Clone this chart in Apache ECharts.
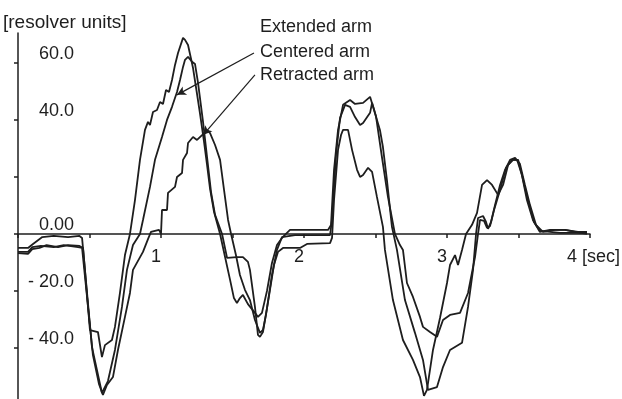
<!DOCTYPE html>
<html>
<head>
<meta charset="utf-8">
<script src="https://cdn.jsdelivr.net/npm/echarts@6/dist/echarts.min.js"></script>
<style>
html,body{margin:0;padding:0;background:#fff;}
#chart{width:622px;height:399px;}
</style>
</head>
<body>
<div id="chart"></div>
<script>
// time [sec], value [resolver units]
const extendedArm = [[0,-6.7],[0.07,-7.0],[0.1,-5.3],[0.15,-4.9],[0.2,-3.9],[0.28,-4.6],[0.35,-3.9],[0.43,-4.2],[0.455,-4.9],
[0.503,-33.7],[0.559,-34.4],[0.587,-43.2],[0.608,-39.0],[0.657,-37.2],[0.678,-32.6],[0.713,-20.7],[0.748,-7.4],[0.783,0],[0.818,11.9],[0.853,26.0],[0.888,36.5],[0.909,39.3],[0.923,38.2],[0.944,42.8],[0.972,43.5],[0.993,46.3],[1.014,45.6],[1.035,50.5],[1.056,49.8],[1.077,54.0],[1.098,59.3],[1.119,63.5],[1.154,68.8],[1.168,68.1],[1.189,66.3],[1.224,58.2],[1.252,49.1],[1.273,42.1],[1.301,32.3],[1.322,24.2],[1.343,15.8],[1.371,7.7],[1.413,0],[1.448,-8.1],[1.483,-16.1],[1.51,-22.5],[1.531,-24.2],[1.552,-22.5],[1.573,-21.4],[1.608,-24.6],[1.657,-27.7],[1.678,-29.1],[1.706,-27.7],[1.741,-20.0],[1.776,-10.2],[1.811,-3.9],[1.846,-1.4],[1.902,1.4],[1.972,1.4],[2.168,1.4],[2.189,3.2],[2.21,22.5],[2.238,36.5],[2.273,45.3],[2.322,47.0],[2.357,45.6],[2.413,46.0],[2.462,48.1],[2.483,44.6],[2.531,36.5],[2.552,30.5],[2.58,18.9],[2.615,2.5],[2.65,-5.6],[2.706,-23.2],[2.776,-34.7],[2.832,-44.2],[2.867,-54.7],[2.93,-53.7],[2.972,-46.7],[3.021,-40.7],[3.105,-38.2],[3.147,-25.6],[3.182,-12.6],[3.203,0],[3.217,5.6],[3.252,6.3],[3.273,4.2],[3.287,1.8],[3.308,4.2],[3.336,10.2],[3.371,17.2],[3.406,22.5],[3.441,26.0],[3.476,26.7],[3.51,24.6],[3.545,17.2],[3.58,10.2],[3.622,3.2],[3.671,0.7],[3.755,1.4],[3.825,1.4],[3.895,0.7],[3.979,0]];

const centeredArm = [[0,-4.9],[0.07,-4.9],[0.105,-3.5],[0.17,-1.1],[0.25,-0.7],[0.35,-1.1],[0.43,-0.7],[0.448,-1.4],
[0.517,-39.6],[0.552,-47.7],[0.587,-55.8],[0.629,-51.6],[0.678,-40.7],[0.727,-25.6],[0.762,-12.6],[0.804,-3.9],[0.853,0],[0.874,4.9],[0.923,16.5],[0.958,26.0],[1.007,34.0],[1.042,40.0],[1.077,44.6],[1.112,49.8],[1.133,54.0],[1.154,58.6],[1.168,61.1],[1.189,62.1],[1.217,60.4],[1.238,59.6],[1.259,53.0],[1.294,39.3],[1.322,27.0],[1.35,14.7],[1.378,6.7],[1.427,0],[1.462,-8.4],[1.531,-8.1],[1.573,-8.1],[1.608,-9.8],[1.622,-12.6],[1.657,-25.6],[1.678,-35.4],[1.692,-36.1],[1.713,-34.4],[1.741,-26.0],[1.776,-14.4],[1.811,-5.6],[1.846,-1.1],[1.937,-0.4],[2.182,-0.4],[2.196,5.0],[2.224,28.0],[2.252,40.7],[2.287,45.3],[2.322,44.6],[2.357,41.0],[2.392,38.2],[2.413,38.9],[2.462,42.5],[2.476,46.0],[2.503,41.4],[2.545,27.0],[2.587,13.0],[2.636,0],[2.671,-3.9],[2.692,-5.6],[2.72,-17.2],[2.762,-22.1],[2.811,-29.1],[2.832,-32.6],[2.881,-34.4],[2.93,-36.1],[2.972,-30.2],[3.021,-28.4],[3.091,-27.7],[3.147,-20.7],[3.196,-8.1],[3.217,0],[3.231,4.9],[3.259,4.6],[3.28,2.1],[3.301,2.8],[3.329,8.4],[3.371,15.4],[3.413,23.2],[3.455,26.0],[3.49,26.0],[3.524,20.7],[3.566,11.9],[3.608,4.2],[3.65,1.1],[3.79,0.4],[3.979,0.4]];

const retractedArm = [[0,-6.3],[0.07,-6.3],[0.1,-4.6],[0.16,-4.2],[0.25,-4.6],[0.32,-3.9],[0.42,-4.6],[0.448,-4.9],[0.524,-42.5],[0.566,-52.6],[0.594,-56.5],[0.622,-53.0],[0.664,-50.2],[0.699,-40.7],[0.748,-29.1],[0.783,-20.7],[0.804,-12.6],[0.874,-6.3],[0.909,-1.8],[0.93,0.7],[0.937,1.4],[0.986,1.4],[1.0,0],[1.007,0.7],[1.007,8.4],[1.042,8.4],[1.049,14.4],[1.098,16.5],[1.112,20.0],[1.147,21.4],[1.154,26.0],[1.182,28.4],[1.189,31.9],[1.224,34.0],[1.252,33.0],[1.287,34.7],[1.322,36.5],[1.343,35.4],[1.378,31.2],[1.413,26.0],[1.441,15.4],[1.469,4.9],[1.49,0],[1.524,-7.4],[1.552,-14.4],[1.587,-19.6],[1.622,-23.2],[1.657,-30.2],[1.692,-34.7],[1.713,-33.7],[1.734,-28.4],[1.762,-19.6],[1.79,-10.9],[1.818,-6.3],[1.853,-4.9],[1.972,-4.9],[2.021,-3.5],[2.182,-3.2],[2.196,-1.4],[2.21,11.9],[2.238,29.5],[2.259,34.7],[2.273,36.5],[2.308,36.5],[2.336,29.5],[2.371,22.5],[2.392,20.0],[2.413,20.7],[2.448,23.2],[2.476,21.8],[2.51,13.0],[2.552,2.5],[2.566,-5.6],[2.622,-23.2],[2.692,-37.2],[2.762,-44.2],[2.811,-50.2],[2.839,-56.8],[2.86,-54.7],[2.902,-40.7],[2.951,-29.5],[3.0,-17.2],[3.021,-10.9],[3.056,-7.4],[3.077,-10.9],[3.105,-5.6],[3.133,0],[3.175,3.2],[3.21,7.4],[3.245,17.2],[3.28,18.9],[3.315,17.2],[3.357,13.7],[3.392,17.2],[3.427,24.2],[3.462,26.0],[3.497,26.0],[3.524,20.7],[3.559,11.9],[3.601,4.9],[3.65,0.7],[3.72,1.4],[3.825,1.4],[3.916,0.7],[3.979,0.7]];

const seriesNames = ['Extended arm', 'Centered arm', 'Retracted arm'];
// leader lines: [label end], [curve end] in data coordinates
const leaderLines = [
  [[1.650, 70.9], [1.182, 68.1]],
  [[1.650, 63.5], [1.112, 48.8]],
  [[1.657, 55.8], [1.294, 34.7]]
];
const xLabels = [1, 2, 3];
const yTicks = [-40, -20, 0, 20, 40, 60];
const yLabels = [-40, -20, 0, 40, 60];

const FONT = '"Liberation Sans", Arial, Helvetica, sans-serif';
const INK = '#1e1e1e';

const chart = echarts.init(document.getElementById('chart'), null, {renderer: 'canvas'});

function mkSeries(name, data, leader) {
  return {
    name: name, type: 'line', data: data, showSymbol: false, symbol: 'none',
    clip: false, animation: false,
    lineStyle: {color: INK, width: 1.8},
    markLine: {
      silent: true, animation: false,
      symbol: ['none', 'arrow'], symbolSize: [7, 9],
      label: {show: false},
      lineStyle: {color: INK, width: 1.2, type: 'solid'},
      data: [[{coord: leader[0]}, {coord: leader[1]}]]
    }
  };
}

chart.setOption({
  animation: false,
  backgroundColor: '#fff',
  title: {
    text: '[resolver units]', left: 3, top: 13, padding: 0,
    textStyle: {fontFamily: FONT, fontSize: 19, fontWeight: 'normal', color: INK}
  },
  grid: {left: 18, right: 32, top: 33, bottom: 0, containLabel: false, outerBoundsMode: 'none'},
  xAxis: {
    type: 'value', min: 0, max: 4, interval: 0.5,
    position: 'bottom', offset: -165,
    axisLine: {onZero: false, lineStyle: {color: INK, width: 1.5}},
    axisTick: {length: 4, lineStyle: {color: INK, width: 1.5}},
    axisLabel: {show: true, align: 'right', margin: 14,
      fontFamily: FONT, fontSize: 18, color: INK,
      formatter: v => xLabels.indexOf(v) >= 0 ? String(v) : ''},
    splitLine: {show: false},
    name: '4 [sec]', nameLocation: 'end', nameGap: -23,
    nameTextStyle: {fontFamily: FONT, fontSize: 18, color: INK, align: 'left', verticalAlign: 'top', padding: [14, 0, 0, 0]}
  },
  yAxis: {
    type: 'value', min: -57.9, max: 70.5,
    axisLine: {show: true, onZero: false, lineStyle: {color: INK, width: 1.5}},
    axisTick: {show: true, customValues: yTicks, length: 4, lineStyle: {color: INK, width: 1.5}},
    axisLabel: {customValues: yLabels, inside: true, margin: 56, align: 'right', verticalAlign: 'bottom',
      lineHeight: 18, fontFamily: FONT, fontSize: 18, color: INK,
      formatter: v => v === 0 ? '0.00' : (v < 0 ? '- ' + Math.abs(v).toFixed(1) : v.toFixed(1))},
    splitLine: {show: false}
  },
  graphic: [
    {type: 'text', x: 260, y: 27, style: {text: seriesNames[0], fontFamily: FONT, fontSize: 18, fill: INK, verticalAlign: 'middle'}},
    {type: 'text', x: 260, y: 52, style: {text: seriesNames[1], fontFamily: FONT, fontSize: 18, fill: INK, verticalAlign: 'middle'}},
    {type: 'text', x: 260, y: 75, style: {text: seriesNames[2], fontFamily: FONT, fontSize: 18, fill: INK, verticalAlign: 'middle'}}
  ],
  series: [
    mkSeries(seriesNames[0], extendedArm, leaderLines[0]),
    mkSeries(seriesNames[1], centeredArm, leaderLines[1]),
    mkSeries(seriesNames[2], retractedArm, leaderLines[2])
  ]
});
</script>
</body>
</html>
